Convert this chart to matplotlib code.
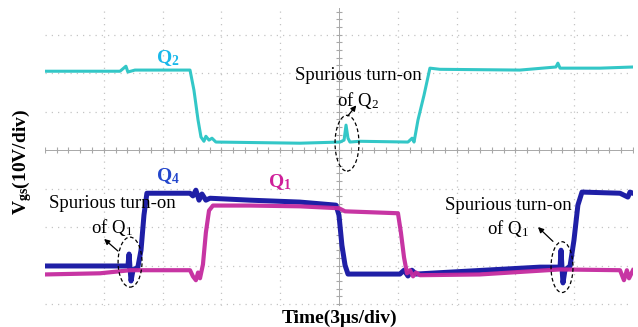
import numpy as np
import matplotlib.pyplot as plt
from matplotlib.patches import Ellipse

plt.rcParams['font.family'] = ['Liberation Serif', 'DejaVu Serif']
plt.rcParams['mathtext.fontset'] = 'custom'
plt.rcParams['mathtext.rm'] = 'Liberation Serif'
plt.rcParams['mathtext.it'] = 'Liberation Serif:italic'
plt.rcParams['mathtext.bf'] = 'Liberation Serif:bold'

# scope traces: time (us, 3us/div) and screen voltage (V, 10V/div)
q2_t = [0, 3.83, 4.13, 4.23, 4.59, 7.40, 7.60, 7.81, 7.96, 8.11, 8.21, 8.37, 8.52, 8.72,
        13.01, 15.05, 15.26, 15.36, 15.46, 15.56, 16.07, 18.52, 18.73, 18.83, 19.03, 19.34,
        19.64, 20.15, 24.23, 26.07, 26.17, 26.28, 28.32, 30.0]
q2_v = [20.5, 20.5, 21.8, 20.3, 20.8, 20.8, 15.6, 7.8, 3.4, 2.3, 3.6, 2.6, 3.1, 2.1,
        1.8, 2.1, 2.6, 6.5, 3.1, 2.1, 2.3, 2.1, 3.1, 2.1, 7.8, 14.3,
        21.3, 21.0, 20.8, 21.6, 22.6, 21.3, 21.3, 21.6]

q4_t = [0, 3.83, 4.23, 4.29, 4.34, 4.39, 4.49, 4.74, 4.90, 5.05, 5.20, 7.40, 7.55, 7.70,
        7.86, 8.01, 8.21, 8.42, 10.46, 13.01, 14.85, 15.0, 15.15, 15.31, 15.46, 18.11,
        18.32, 18.52, 18.72, 18.93, 20.66, 25.26, 26.28, 26.33, 26.38, 26.43, 26.53, 26.79,
        26.99, 27.19, 27.40, 29.34, 29.74, 29.85, 30.0]
q4_v = [-30.1, -30.1, -30.1, -27.0, -30.6, -34.0, -31.2, -30.4, -26.0, -16.9, -11.2, -11.2, -11.9, -10.4,
        -13.0, -11.4, -13.0, -12.5, -13.0, -13.5, -14.3, -16.9, -24.7, -29.9, -32.2, -32.2,
        -31.2, -32.7, -31.2, -32.2, -31.7, -30.4, -30.4, -26.0, -30.6, -34.5, -31.2, -30.1,
        -23.4, -14.3, -10.9, -11.2, -12.2, -10.9, -11.2]

q1_t = [0, 2.81, 4.34, 7.40, 7.55, 7.70, 7.81, 7.91, 8.06, 8.21, 8.37, 8.57, 10.46, 13.01,
        15.0, 15.31, 18.01, 18.16, 18.32, 18.47, 18.62, 18.78, 18.93, 19.13, 22.19, 26.28,
        29.34, 29.54, 29.69, 29.80, 30.0]
q1_v = [-31.7, -31.4, -30.6, -30.6, -32.2, -33.2, -31.2, -32.7, -29.1, -20.8, -15.1, -13.8, -13.8, -14.0,
        -14.5, -15.3, -15.8, -20.8, -27.3, -31.4, -30.6, -32.2, -31.2, -31.9, -31.7, -30.4,
        -30.6, -33.2, -30.6, -32.7, -30.6]

fig = plt.figure(figsize=(6.38, 3.27), dpi=100)
ax = fig.add_axes([0.0705, 0.0642, 0.9216, 0.911])
ax.set_xlim(0, 30)
ax.set_ylim(-40.5, 36.9)
ax.axis('off')

# scope graticule
for t in range(3, 30, 3):
    if t != 15:
        ax.axvline(t, color='#c4c4c4', lw=0.9, ls=(0, (1, 4)), zorder=0)
for v in range(-40, 31, 10):
    if v != 0:
        ax.axhline(v, color='#c4c4c4', lw=0.9, ls=(0, (1, 4)), zorder=0)
ax.axhline(0, color='#a8a8a8', lw=0.7, zorder=0)
ax.axvline(15, color='#a8a8a8', lw=0.7, zorder=0)
tick_t = np.arange(0, 30.01, 0.6)
tick_v = np.arange(-40, 37, 2)
ax.plot(tick_t, np.zeros(len(tick_t)), ls='none', marker='|', ms=4, color='#a8a8a8', mew=0.8, zorder=0)
ax.plot(np.full(len(tick_v), 15.0), tick_v, ls='none', marker='_', ms=4, color='#a8a8a8', mew=0.8, zorder=0)

# traces
ax.plot(q2_t, q2_v, color='#33c7c7', lw=2.2, zorder=2)
ax.plot(q4_t, q4_v, color='#1f1fa6', lw=3.6, zorder=2)
ax.plot(q1_t, np.array(q1_v) - 0.6, color='#c42a9e', lw=3.0, zorder=3, alpha=0.95)

# labels for channels
ax.text(6.28, 23.9, r'$\mathbf{Q_2}$', color='#19b8ea', fontsize=14, ha='center', va='center')
ax.text(6.28, -6.8, r'$\mathbf{Q_4}$', color='#2346cc', fontsize=14, ha='center', va='center')
ax.text(11.99, -8.3, r'$\mathbf{Q_1}$', color='#cf1f9a', fontsize=14, ha='center', va='center')

# annotations
notes = [
    (15.97, 19.5, 13.0, r'of $\mathrm{Q}_2$', (15.41, 1.8, 1.22, 14.5), (15.36, 8.3), (15.97, 12.2)),
    (3.42, -13.8, -20.0, r'of $\mathrm{Q}_1$', (4.34, -29.1, 1.22, 13.0), (3.83, -26.7), (2.91, -22.6)),
    (23.62, -14.3, -20.3, r'of $\mathrm{Q}_1$', (26.38, -30.4, 1.12, 13.2), (26.02, -24.2), (25.05, -19.5)),
]
for tx, ty1, ty2, sub, ell, a0, a1 in notes:
    ax.text(tx, ty1, 'Spurious turn-on', fontsize=13.5, ha='center', va='center', zorder=5)
    ax.text(tx, ty2, sub, fontsize=13.5, ha='center', va='center', zorder=5)
    ax.add_patch(Ellipse(ell[:2], ell[2], ell[3], fill=False, ls=(0, (3, 2)), lw=0.9, color='black', zorder=5))
    ax.annotate('', xy=a1, xytext=a0,
                arrowprops=dict(arrowstyle='-|>', color='black', lw=0.9, mutation_scale=8), zorder=5)

fig.text(22 / 638, 1 - 162 / 327, r'$\mathbf{V_{gs}}$(10V/div)', rotation=90, fontsize=14,
         fontweight='bold', ha='center', va='center')
fig.text(339 / 638, 1 - 318 / 327, 'Time(3μs/div)', fontsize=14, fontweight='bold', ha='center', va='center')

fig.savefig('out.png', dpi=100)
